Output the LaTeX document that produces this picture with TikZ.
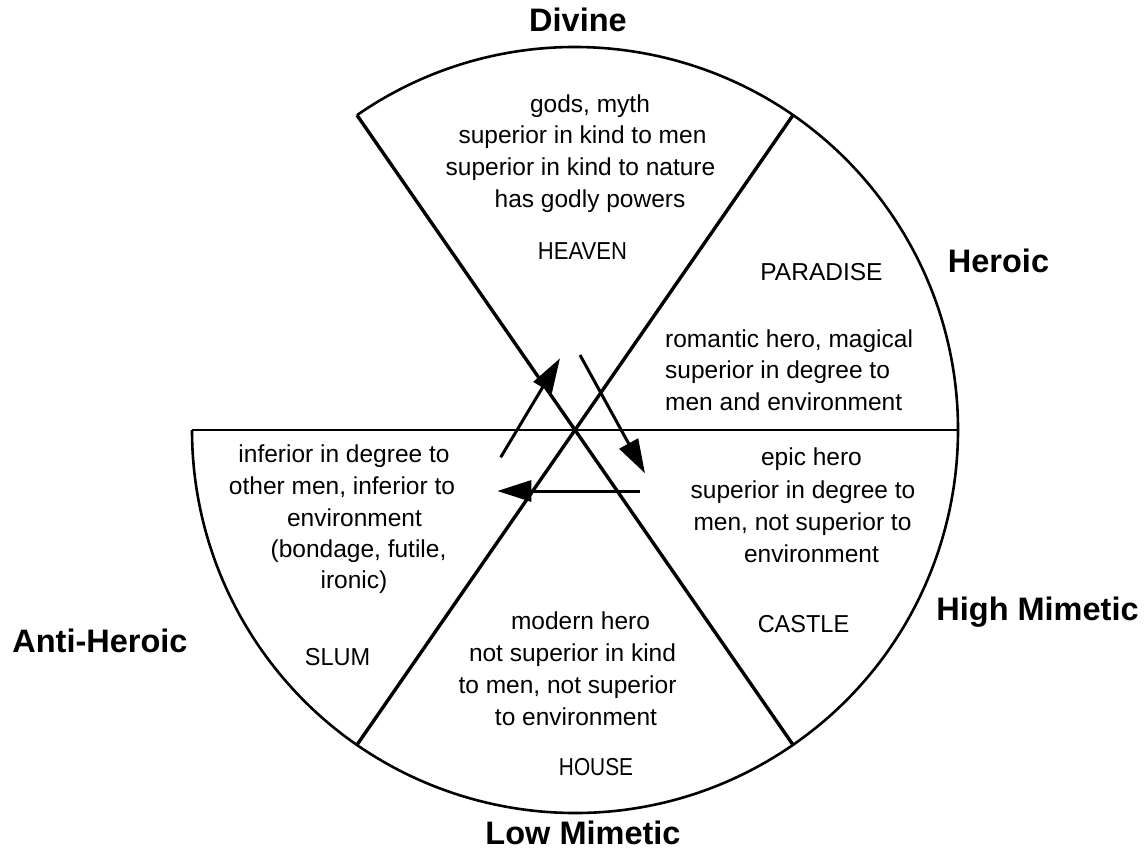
\documentclass[tikz,border=0pt]{standalone}
\usepackage{fontspec}
\setmainfont{Liberation Sans}
\usepackage{graphicx}
\usetikzlibrary{arrows.meta}
\begin{document}
\begin{tikzpicture}[x=1pt,y=1pt,
  txt/.style={font=\fontsize{24.5}{32}\selectfont, anchor=base, inner sep=0pt},
  txtl/.style={txt, anchor=base west},
  ttl/.style={font=\fontsize{32.5}{38}\selectfont\bfseries, anchor=base, inner sep=0pt},
  rim/.style={line width=2.6pt},
  spoke/.style={line width=3.4pt},
  flow/.style={line width=3pt, -{Triangle[length=34pt,width=21pt]}}]
\useasboundingbox (0,0) rectangle (1146,-851);
\coordinate (C) at (575,-430);
\path (C) ++(124.7:383) coordinate (TL)
      (C) ++(55.3:383) coordinate (TR)
      (C) ++(-55.3:383) coordinate (BR)
      (C) ++(-124.7:383) coordinate (BL)
      (C) ++(180:383) coordinate (L)
      (C) ++(0:383) coordinate (R);
% rim and spokes
\draw[rim] (TL) arc[start angle=124.7, end angle=-180, radius=383];
\draw[rim] (L) -- (R);
\draw[spoke] (TL) -- (BR);
\draw[spoke] (TR) -- (BL);
% arrows
\coordinate (a1) at (500.7,-457.3); \coordinate (a2) at (560,-358.3);
\coordinate (b1) at (580,-355);     \coordinate (b2) at (645,-473.3);
\coordinate (c1) at (640,-491);     \coordinate (c2) at (497.3,-491);
\draw[flow] (a1) -- (a2);
\draw[flow] (b1) -- (b2);
\draw[flow] (c1) -- (c2);
% titles
\node[ttl] (divine) at (578,-32) {Divine};
\node[ttl] (heroic) at (998.5,-272) {Heroic};
\node[ttl] (highm) at (1037.5,-620) {High Mimetic};
\node[ttl] (lowm) at (583,-844) {Low Mimetic};
\node[ttl] (anti) at (100,-652) {Anti-Heroic};
% divine sector
\node[txt] (d1) at (590,-112) {gods, myth};
\node[txt] (d2) at (582.5,-143) {superior in kind to men};
\node[txt] (d3) at (580.5,-175) {superior in kind to nature};
\node[txt] (d4) at (590,-207) {has godly powers};
\node[txt] (heaven) at (582.5,-259) {\scalebox{0.9}[1]{HEAVEN}};
% heroic sector
\node[txt] (paradise) at (821.5,-280) {PARADISE};
\node[txtl] (h1) at (665,-347) {romantic hero, magical};
\node[txtl] (h2) at (665,-378) {superior in degree to};
\node[txtl] (h3) at (665,-410) {men and environment};
% high mimetic sector
\node[txt] (e1) at (811.5,-465) {epic hero};
\node[txt] (e2) at (803,-498) {superior in degree to};
\node[txt] (e3) at (802.5,-530) {men, not superior to};
\node[txt] (e4) at (811.5,-562) {environment};
\node[txt] (castle) at (803.5,-632) {\scalebox{0.96}[1]{CASTLE}};
% anti-heroic sector
\node[txt] (s1) at (344,-462) {inferior in degree to};
\node[txt] (s2) at (342,-494) {other men, inferior to};
\node[txt] (s3) at (354.5,-526) {environment};
\node[txt] (s4) at (358.5,-557) {(bondage, futile,};
\node[txt] (s5) at (354,-588) {ironic)};
\node[txt] (slum) at (337.5,-665) {\scalebox{0.96}[1]{SLUM}};
% low mimetic sector
\node[txt] (m1) at (580.5,-629) {modern hero};
\node[txt] (m2) at (572.5,-661) {not superior in kind};
\node[txt] (m3) at (567.5,-693) {to men, not superior};
\node[txt] (m4) at (576,-725) {to environment};
\node[txt] (house) at (596,-775) {\scalebox{0.85}[1]{HOUSE}};
\end{tikzpicture}
\end{document}
